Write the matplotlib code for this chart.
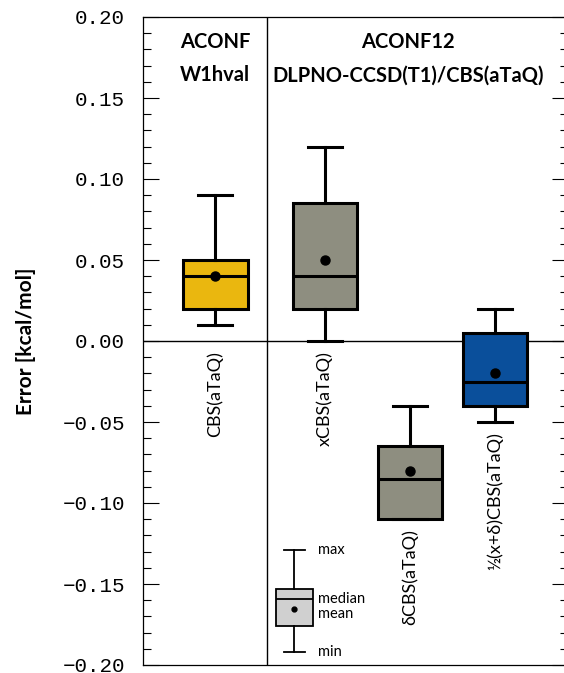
import matplotlib
matplotlib.use("Agg")
import matplotlib.pyplot as plt
from matplotlib.ticker import MultipleLocator, FuncFormatter

# ---- data ----
labels = ["CBS(aTaQ)", "xCBS(aTaQ)", "δCBS(aTaQ)", "½(x+δ)CBS(aTaQ)"]
whis_lo = [0.01, 0.00, -0.11, -0.05]
q1 = [0.02, 0.02, -0.11, -0.04]
median = [0.04, 0.04, -0.085, -0.025]
mean = [0.04, 0.05, -0.08, -0.02]
q3 = [0.05, 0.085, -0.065, 0.005]
whis_hi = [0.09, 0.12, -0.04, 0.02]
colors = ["#EAB70F", "#8E8E80", "#8E8E80", "#0A4F9B"]

legend_labels = ["max", "median", "mean", "min"]
legend_stats = dict(whislo=-0.192, q1=-0.176, med=-0.159, mean=-0.1655, q3=-0.153, whishi=-0.129)

group_titles = [["ACONF", "W1hval"], ["ACONF12", "DLPNO-CCSD(T1)/CBS(aTaQ)"]]
yticks = [-0.20, -0.15, -0.10, -0.05, 0.00, 0.05, 0.10, 0.15, 0.20]

# ---- layout ----
positions = [0.85, 2.14, 3.14, 4.14]
separator_x = 1.46
legend_x = 1.78
title_x = [0.85, 3.12]

fig = plt.figure(figsize=(5.64, 6.73), dpi=100)
ax = fig.add_axes([143/564, 8/673, 425/564, 648/673])

stats = []
for i in range(len(labels)):
    stats.append(dict(whislo=whis_lo[i], q1=q1[i], med=median[i], mean=mean[i],
                      q3=q3[i], whishi=whis_hi[i], fliers=[], label=labels[i]))

bp = ax.bxp(stats, positions=positions, widths=0.76, capwidths=0.4, showmeans=True,
            patch_artist=True, showfliers=False,
            boxprops=dict(linewidth=2.2, edgecolor="black"),
            whiskerprops=dict(linewidth=2.2, color="black"),
            capprops=dict(linewidth=2.2, color="black"),
            medianprops=dict(linewidth=2.2, color="black"),
            meanprops=dict(marker="o", markerfacecolor="black", markeredgecolor="black",
                           markersize=6.5))
for patch, c in zip(bp["boxes"], colors):
    patch.set_facecolor(c)

# legend box
lstats = dict(legend_stats)
lstats["fliers"] = []
lb = ax.bxp([lstats], positions=[legend_x], widths=0.43, capwidths=0.25, showmeans=True,
            patch_artist=True, showfliers=False,
            boxprops=dict(linewidth=1.3, edgecolor="black", facecolor="#D0D0D0"),
            whiskerprops=dict(linewidth=1.3, color="black"),
            capprops=dict(linewidth=1.3, color="black"),
            medianprops=dict(linewidth=1.3, color="black"),
            meanprops=dict(marker="o", markerfacecolor="black", markeredgecolor="black",
                           markersize=3.5))
legend_y = [legend_stats["whishi"], legend_stats["med"] - 0.0005,
            legend_stats["med"] - 0.0095, legend_stats["whislo"]]
for t, yv in zip(legend_labels, legend_y):
    ax.annotate(t, (legend_x + 0.215, yv), xytext=(4, 0), textcoords="offset points",
                va="center", ha="left", fontsize=10.5, family=["Lato", "DejaVu Sans"])

# rotated category labels
for i, t in enumerate(labels):
    ax.annotate(t, (positions[i], min(whis_lo[i], 0.0)), xytext=(0, -7),
                textcoords="offset points", rotation=90, ha="center", va="top",
                fontsize=13, family=["Lato", "DejaVu Sans"])

ax.axhline(0, color="black", linewidth=1.0, zorder=0)
ax.axvline(separator_x, color="black", linewidth=1.0, zorder=0)

# group titles
for x, lines in zip(title_x, group_titles):
    ax.annotate(lines[0], (x, 0.2), xytext=(0, -18), textcoords="offset points",
                ha="center", va="center", fontsize=14.5, fontweight="bold", family=["Lato", "DejaVu Sans"])
    ax.annotate(lines[1], (x, 0.2), xytext=(0, -42), textcoords="offset points",
                ha="center", va="center", fontsize=14.5, fontweight="bold", family=["Lato", "DejaVu Sans"])

ax.set_xlim(0, 5)
ax.set_ylim(-0.2, 0.2)
ax.set_xticks([])
ax.set_yticks(yticks)
ax.yaxis.set_major_formatter(FuncFormatter(lambda v, p: f"{v:.2f}".replace("-", "\u2212")))
ax.yaxis.set_minor_locator(MultipleLocator(0.01))
ax.tick_params(axis="y", which="both", direction="in", left=True, right=True)
ax.tick_params(axis="y", which="major", length=11.5, width=0.8, pad=13, labelsize=15)
ax.tick_params(axis="y", which="minor", length=5.8, width=0.8)
for lab in ax.get_yticklabels():
    lab.set_family(["Liberation Mono", "DejaVu Sans Mono"])
for s in ax.spines.values():
    s.set_linewidth(0.9)

ax.set_ylabel("Error [kcal/mol]", fontsize=15, fontweight="bold", family=["Lato", "DejaVu Sans"],
              labelpad=19)

fig.savefig("out.png", dpi=100)
